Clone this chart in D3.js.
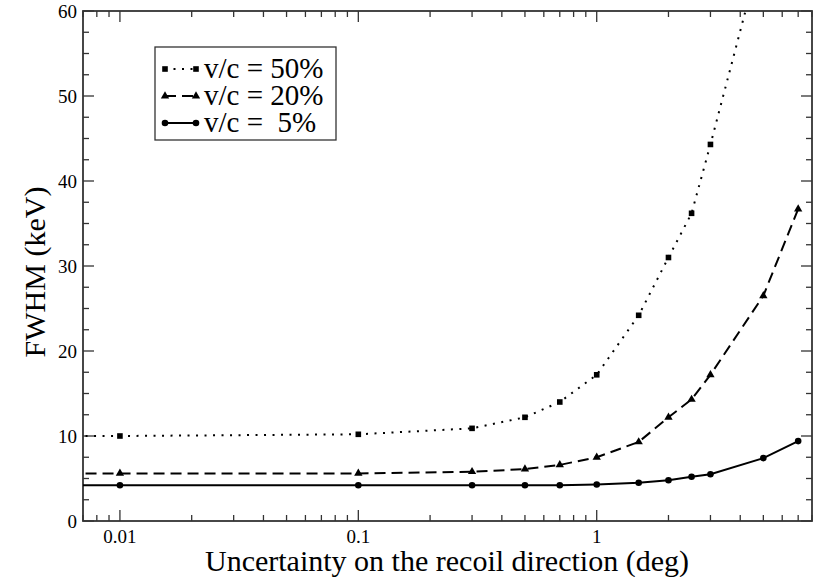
<!DOCTYPE html>
<html>
<head>
<meta charset="utf-8">
<script src="https://cdn.jsdelivr.net/npm/d3@7"></script>
<style>
body{margin:0;background:#fff;}
svg{display:block;}
</style>
</head>
<body>
<svg id="chart" width="815" height="577"></svg>
<script>
// data
var angles = [0.001, 0.01, 0.1, 0.3, 0.5, 0.7, 1, 1.5, 2, 2.5, 3, 5, 7];
var fwhm50 = [10.0, 10.0, 10.2, 10.9, 12.2, 14.0, 17.2, 24.2, 31.0, 36.2, 44.3, 68, 94];
var fwhm20 = [5.6, 5.6, 5.6, 5.8, 6.1, 6.6, 7.5, 9.3, 12.2, 14.3, 17.2, 26.5, 36.7];
var fwhm5  = [4.2, 4.2, 4.2, 4.2, 4.2, 4.2, 4.3, 4.5, 4.8, 5.2, 5.5, 7.4, 9.4];
var legendLabels = ["v/c = 50%", "v/c = 20%", "v/c =  5%"];
var xTickLabels = [0.01, 0.1, 1];
var yTickLabels = [0, 10, 20, 30, 40, 50, 60];

var serif = "'Liberation Serif','Times New Roman',Times,serif";
var svg = d3.select("#chart").attr("font-family", serif);
var plotLeft = 83, plotRight = 812, plotTop = 11, plotBottom = 521;

var x = d3.scaleLog().domain([0.007, 8]).range([plotLeft, plotRight]);
var y = d3.scaleLinear().domain([0, 60]).range([plotBottom, plotTop]);

svg.append("clipPath").attr("id","plotClip").append("rect")
	.attr("x",plotLeft).attr("y",plotTop).attr("width",plotRight-plotLeft).attr("height",plotBottom-plotTop);

// minor/major ticks on all four sides, pointing inward
var xMinor = [];
[0.001,0.01,0.1,1].forEach(function(d){ for(var k=1;k<10;k++){ var v=+(d*k).toPrecision(3); if(v>=0.007 && v<=8) xMinor.push(v); } });
var yMinor = d3.range(0, 60.01, 2.5);

var ticks = svg.append("g").attr("stroke","#333").attr("stroke-width",1.3);
xMinor.forEach(function(v){
	var major = xTickLabels.indexOf(v) >= 0;
	var len = major ? 11 : 6;
	ticks.append("line").attr("x1",x(v)).attr("x2",x(v)).attr("y1",plotBottom).attr("y2",plotBottom-len);
	ticks.append("line").attr("x1",x(v)).attr("x2",x(v)).attr("y1",plotTop).attr("y2",plotTop+len);
});
yMinor.forEach(function(v){
	var major = v % 10 === 0;
	var len = major ? 11 : 6;
	ticks.append("line").attr("x1",plotLeft).attr("x2",plotLeft+len).attr("y1",y(v)).attr("y2",y(v));
	ticks.append("line").attr("x1",plotRight).attr("x2",plotRight-len).attr("y1",y(v)).attr("y2",y(v));
});

svg.append("rect").attr("x",plotLeft).attr("y",plotTop).attr("width",plotRight-plotLeft).attr("height",plotBottom-plotTop)
	.attr("fill","none").attr("stroke","#333").attr("stroke-width",1.8);

svg.append("g").selectAll("text").data(xTickLabels).enter().append("text")
	.attr("x",function(d){return x(d);}).attr("y",543)
	.attr("text-anchor","middle").attr("font-size",19)
	.text(function(d){return d;});
svg.append("g").selectAll("text").data(yTickLabels).enter().append("text")
	.attr("x",77).attr("y",function(d){return y(d)+6.5;})
	.attr("text-anchor","end").attr("font-size",19)
	.text(function(d){return d;});

svg.append("text").attr("x",447).attr("y",571).attr("text-anchor","middle").attr("font-size",30)
	.text("Uncertainty on the recoil direction (deg)");
svg.append("text").attr("transform","translate(45,272) rotate(-90)").attr("text-anchor","middle").attr("font-size",30)
	.text("FWHM (keV)");

// series
var series = [
	{vals: fwhm50, dash: "2,6.5", width: 2, marker: "square"},
	{vals: fwhm20, dash: "11,6", width: 2, marker: "triangle"},
	{vals: fwhm5,  dash: null, width: 2, marker: "circle"}
];
var line = d3.line().x(function(d){return x(d[0]);}).y(function(d){return y(d[1]);});
var plot = svg.append("g").attr("clip-path","url(#plotClip)");

function drawMarker(g, type, cx, cy){
	if(type=="square") g.append("rect").attr("x",cx-2.8).attr("y",cy-2.8).attr("width",5.6).attr("height",5.6).attr("fill","#000");
	else if(type=="triangle") g.append("path").attr("d",d3.symbol().type(d3.symbolTriangle).size(30)()).attr("transform","translate("+cx+","+cy+")").attr("fill","#000");
	else g.append("circle").attr("cx",cx).attr("cy",cy).attr("r",3.3).attr("fill","#000");
}

series.forEach(function(s){
	var pts = angles.map(function(a,i){return [a, s.vals[i]];});
	plot.append("path").attr("d",line(pts)).attr("fill","none").attr("stroke","#000")
		.attr("stroke-width",s.width).attr("stroke-dasharray",s.dash);
	pts.slice(1).forEach(function(p){ drawMarker(plot, s.marker, x(p[0]), y(p[1])); });
});

// legend
var lg = svg.append("g");
lg.append("rect").attr("x",155).attr("y",47).attr("width",181).attr("height",93)
	.attr("fill","#fff").attr("stroke","#333").attr("stroke-width",1.3);
legendLabels.forEach(function(label,i){
	var yy = 69 + i*27;
	var s = series[i];
	lg.append("line").attr("x1",165).attr("x2",196).attr("y1",yy).attr("y2",yy)
		.attr("stroke","#000").attr("stroke-width",s.width).attr("stroke-dasharray",s.dash);
	drawMarker(lg, s.marker, 165, yy);
	drawMarker(lg, s.marker, 196, yy);
	lg.append("text").attr("x",204).attr("y",yy+9).attr("font-size",29)
		.style("white-space","pre").text(label);
});
</script>
</body>
</html>
